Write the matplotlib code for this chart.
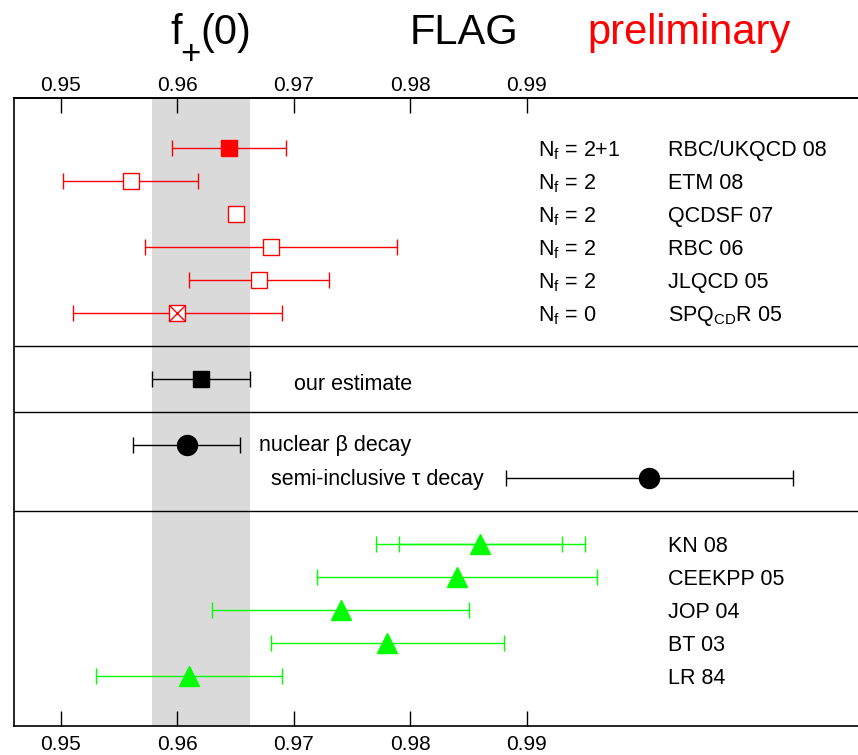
import matplotlib
matplotlib.use("Agg")
import matplotlib.pyplot as plt

plt.rcParams['font.family'] = ['Liberation Sans', 'DejaVu Sans']
plt.rcParams['mathtext.fontset'] = 'custom'
plt.rcParams['mathtext.rm'] = 'Liberation Sans'
plt.rcParams['mathtext.it'] = 'Liberation Sans:italic'

# lattice results (red)
lat_nf = ["2+1", "2", "2", "2", "2", "0"]
lat_names = ["RBC/UKQCD 08", "ETM 08", "QCDSF 07", "RBC 06", "JLQCD 05", r"SPQ$_\mathrm{CD}$R 05"]
lat_val = [0.9644, 0.9560, 0.9650, 0.9680, 0.9670, 0.9600]
lat_err = [0.0049, 0.0058, 0.0, 0.0108, 0.0060, 0.0090]

# our estimate (black square)
est_val = 0.9620
est_err = 0.0042

# experimental determinations (black circles)
exp_names = ["nuclear β decay", "semi-inclusive τ decay"]
exp_val = [0.9608, 1.0005]
exp_err = [0.0046, 0.0123]

# other estimates (green)
oth_names = ["KN 08", "CEEKPP 05", "JOP 04", "BT 03", "LR 84"]
oth_val = [0.986, 0.984, 0.974, 0.978, 0.961]
oth_err = [0.009, 0.012, 0.011, 0.010, 0.008]
oth_err_inner = [0.007, 0, 0, 0, 0]

ticks = [0.95, 0.96, 0.97, 0.98, 0.99]
tick_labels = ["%.2f" % t for t in ticks]

RED = '#ff0000'
GREEN = '#00ff00'
FS = 15.5

fig = plt.figure(figsize=(8.58, 7.55), dpi=100)
ax = fig.add_axes([14/858, 1 - 726/755, 1 - 14/858, (726 - 98)/755])
ax.set_xlim(0.945966, 1.018412)
ax.set_ylim(18.51, -0.52)

# band of our estimate
ax.axvspan(est_val - est_err, est_val + est_err, color='#dadada', lw=0, zorder=0)

# group separators
for y in [7, 9, 12]:
    ax.axhline(y, color='black', lw=1.0, zorder=1)

ekw = dict(capsize=5.5, elinewidth=1.0, capthick=1.0, ls='none')

# lattice
for i in range(len(lat_val)):
    y = i + 1
    if lat_err[i] > 0:
        ax.errorbar(lat_val[i], y, xerr=lat_err[i], color=RED, marker='none', zorder=2, **ekw)
    face = RED if i == 0 else 'white'
    ax.plot(lat_val[i], y, marker='s', ms=12.2, mfc=face, mec=RED, mew=1.0, zorder=3)
    if i == 5:
        ax.plot(lat_val[i], y, marker='x', ms=12.2, mec=RED, mew=1.0, zorder=4)
    ax.text(0.99094, y + 0.25, r"N$_\mathrm{f}$ = " + lat_nf[i], fontsize=FS, va='baseline')
    ax.text(1.00208, y + 0.25, lat_names[i], fontsize=FS, va='baseline')

# our estimate
ax.errorbar(est_val, 8, xerr=est_err, color='black', marker='none', zorder=2, **ekw)
ax.plot(est_val, 8, marker='s', ms=12.2, color='black', zorder=3)
ax.text(0.97003, 8 + 0.32, "our estimate", fontsize=FS, va='baseline')

# experiment
exp_x = [0.96702, 0.96803]
exp_off = [0.17, 0.2]
for i in range(len(exp_val)):
    y = 10 + i
    ax.errorbar(exp_val[i], y, xerr=exp_err[i], color='black', marker='none', zorder=2, **ekw)
    ax.plot(exp_val[i], y, marker='o', ms=14.4, color='black', zorder=3)
    ax.text(exp_x[i], y + exp_off[i], exp_names[i], fontsize=FS, va='baseline')

# others
for i in range(len(oth_val)):
    y = 13 + i
    ax.errorbar(oth_val[i], y, xerr=oth_err[i], color=GREEN, marker='none', zorder=2, **ekw)
    if oth_err_inner[i] > 0:
        ax.errorbar(oth_val[i], y, xerr=oth_err_inner[i], color=GREEN, marker='none', zorder=2, **ekw)
    ax.plot(oth_val[i], y, marker='^', ms=15, color=GREEN, zorder=3)
    ax.text(1.00208, y + 0.25, oth_names[i], fontsize=FS, va='baseline')

# axes style: bottom ticks on the main axes, top ticks on a secondary axis
ax.set_yticks([])
ax.set_xticks(ticks)
ax.set_xticklabels(tick_labels)
ax.tick_params(axis='x', direction='in', length=11, width=1.0, labelsize=15, pad=6.5)
top = ax.secondary_xaxis('top')
top.set_xticks(ticks)
top.set_xticklabels(tick_labels)
top.tick_params(axis='x', direction='in', length=11, width=1.0, labelsize=15, pad=2.5)
top.spines['top'].set_linewidth(1.2)
ax.spines['right'].set_visible(False)
for s in ['left', 'top', 'bottom']:
    ax.spines[s].set_linewidth(1.2)

# title line: f_+(0) built from pieces so the subscript sits low
base = 1 - 44/755
fig.text(170/858, base, "f", fontsize=30, ha='left', va='baseline')
fig.text(190/858, 1 - 64/755, "+", fontsize=25, ha='center', va='baseline')
fig.text(200/858, base, "(0)", fontsize=30, ha='left', va='baseline')
fig.text(464/858, base, "FLAG", fontsize=30, ha='center', va='baseline')
fig.text(688.7/858, base, "preliminary", fontsize=30, ha='center', va='baseline', color=RED)

fig.savefig("out.png", dpi=100)
